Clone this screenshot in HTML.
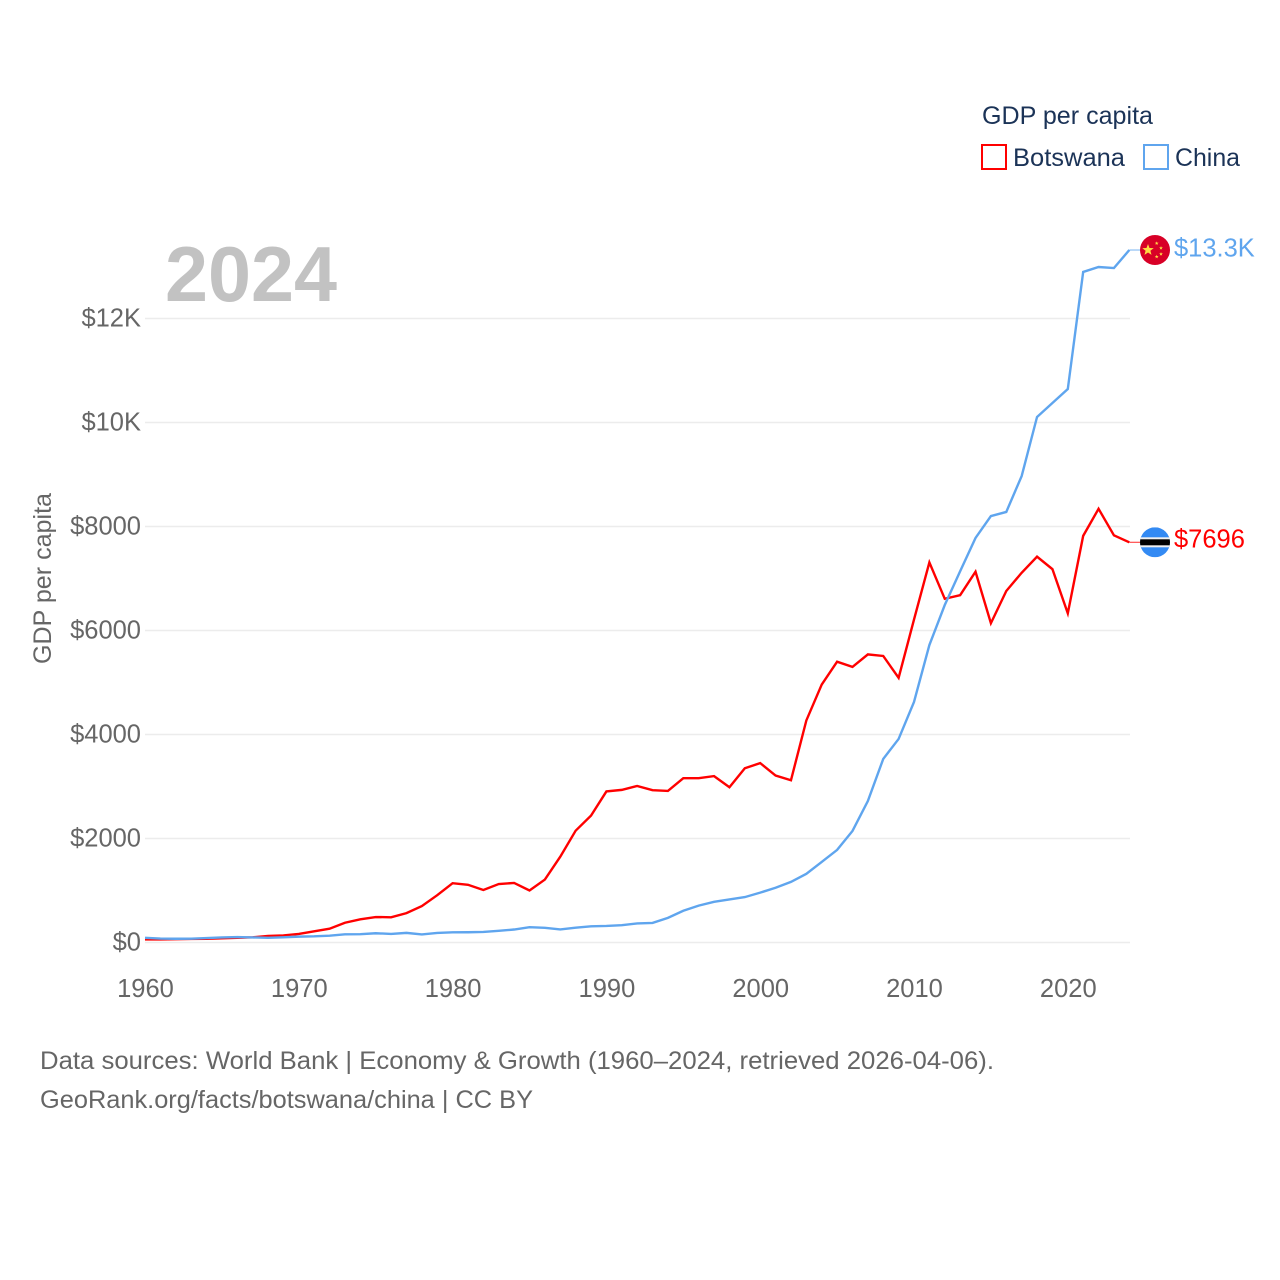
<!DOCTYPE html>
<html lang="en">
<head>
<meta charset="utf-8">
<title>GDP per capita: Botswana and China</title>
<style>
html,body{margin:0;padding:0;background:#fff;width:1280px;height:1280px;overflow:hidden}
svg{display:block}
text{font-family:"Liberation Sans",sans-serif}
</style>
</head>
<body>
<svg id="chart" width="1280" height="1280" viewBox="0 0 1280 1280" xmlns="http://www.w3.org/2000/svg">
  <defs>
    <clipPath id="flag-clip"><circle cx="0" cy="0" r="15"/></clipPath>
  </defs>
  <g id="grid"></g>
  <g id="y-ticks"></g>
  <g id="x-ticks"></g>
  <text transform="translate(51,578.5) rotate(-90)" text-anchor="middle" font-size="25" fill="#666" textLength="171" lengthAdjust="spacingAndGlyphs">GDP per capita</text>
  <text x="165" y="301" font-size="78" font-weight="700" fill="#c2c2c2" textLength="172" lengthAdjust="spacingAndGlyphs">2024</text>
  <g id="series"></g>
  <g id="end-labels"></g>

  <g>
    <text x="982" y="124" font-size="25" fill="#1b3357" textLength="171" lengthAdjust="spacingAndGlyphs">GDP per capita</text>
    <g>
      <rect x="982" y="145" width="24" height="24" fill="#fff" stroke="#ff0000" stroke-width="2"/>
      <text x="1013" y="166" font-size="25" fill="#1b3357" textLength="112" lengthAdjust="spacingAndGlyphs">Botswana</text>
    </g>
    <g>
      <rect x="1144" y="145" width="24" height="24" fill="#fff" stroke="#5fa5ee" stroke-width="2"/>
      <text x="1175" y="166" font-size="25" fill="#1b3357" textLength="65" lengthAdjust="spacingAndGlyphs">China</text>
    </g>
  </g>

  <g>
    <text x="40" y="1069" font-size="25" fill="#666" textLength="954" lengthAdjust="spacingAndGlyphs">Data sources: World Bank | Economy &amp; Growth (1960–2024, retrieved 2026-04-06).</text>
    <text x="40" y="1108" font-size="25" fill="#666" textLength="493" lengthAdjust="spacingAndGlyphs">GeoRank.org/facts/botswana/china | CC BY</text>
  </g>
</svg>
<script>
const startYear = 1960;
const xTickYears = [1960, 1970, 1980, 1990, 2000, 2010, 2020];
const yTickValues = [0, 2000, 4000, 6000, 8000, 10000, 12000];
const yTickLabels = ['$0', '$2000', '$4000', '$6000', '$8000', '$10K', '$12K'];
const botswanaValues = [
  60, 60, 65, 68, 72, 80, 90, 100, 125, 135,
  165, 215, 265, 380, 445, 490, 485, 565, 700, 910,
  1140, 1110, 1010, 1125, 1145, 1000, 1210, 1650, 2150, 2440,
  2905, 2935, 3010, 2930, 2915, 3160, 3160, 3200, 2985, 3350,
  3450, 3210, 3120, 4270, 4960, 5400, 5300, 5540, 5510, 5090,
  6210, 7310, 6610, 6680, 7130, 6140, 6760, 7110, 7420, 7180,
  6330, 7820, 8340, 7830, 7696
];
const chinaValues = [
  90, 76, 72, 73, 85, 98, 104, 97, 91, 100,
  113, 119, 132, 157, 160, 178, 165, 185, 156, 184,
  195, 197, 203, 225, 250, 294, 282, 252, 284, 311,
  318, 333, 366, 377, 473, 610, 709, 782, 829, 873,
  959, 1053, 1165, 1320, 1550, 1780, 2145, 2720, 3530, 3915,
  4625, 5720, 6490, 7140, 7780, 8200, 8280, 8970, 10106, 10375,
  10644, 12895, 12990, 12970, 13317
];
const botswanaEndLabel = '$7696';
const chinaEndLabel = '$13.3K';

const NS = 'http://www.w3.org/2000/svg';
const xScale = year => 145 + (year - 1960) * 15.38;
const yScale = value => 942.5 - value * 0.052;
function make(tag, attrs, parent) {
  const el = document.createElementNS(NS, tag);
  for (const k in attrs) el.setAttribute(k, attrs[k]);
  parent.appendChild(el);
  return el;
}

const gridGroup = document.getElementById('grid');
const yTickGroup = document.getElementById('y-ticks');
yTickValues.forEach((value, i) => {
  const line = make('line', {x1: 145, x2: 1130, y1: yScale(value), y2: yScale(value), stroke: '#ececec', 'stroke-width': 1.6}, gridGroup);
  
  
  const label = make('text', {x: 141, y: yScale(value) + 8, 'text-anchor': 'end', 'font-size': 25.5, fill: '#666'}, yTickGroup);
  
  
  label.textContent = yTickLabels[i];
});

const xTickGroup = document.getElementById('x-ticks');
xTickYears.forEach(year => {
  const label = make('text', {x: xScale(year) + 0.5, y: 997, 'text-anchor': 'middle', 'font-size': 25.5, fill: '#666'}, xTickGroup);
  
  
  label.textContent = year;
});

const seriesGroup = document.getElementById('series');
function drawSeries(values, color, name) {
  const points = values.map((value, i) => xScale(startYear + i).toFixed(2) + ',' + yScale(value).toFixed(2)).join(' ');
  const line = make('polyline', {points: points, fill: 'none', stroke: color, 'stroke-width': 2.4, 'stroke-linejoin': 'miter'}, seriesGroup);
  
  
}
drawSeries(botswanaValues, '#ff0000', 'line-botswana');
drawSeries(chinaValues, '#5fa5ee', 'line-china');

const endGroup = document.getElementById('end-labels');
function drawEnd(values, color, text, drawFlag, name, labelOffset) {
  const lastValue = values[values.length - 1];
  const y = yScale(lastValue);
  const lastX = xScale(startYear + values.length - 1);
  const connector = make('line', {x1: lastX, x2: 1141, y1: y, y2: y, stroke: color, 'stroke-width': 1.2, opacity: 0.7}, endGroup);
  
  
  const flag = make('g', {transform: 'translate(1155,' + y + ')', 'clip-path': 'url(#flag-clip)'}, endGroup);
  
  
  drawFlag(flag);
  const label = make('text', {x: 1174, y: y + labelOffset, 'font-size': 25.5, fill: color}, endGroup);
  
  
  label.textContent = text;
}
function star(cx, cy, r, parent) {
  const pts = [];
  for (let i = 0; i < 10; i++) {
    const a = -Math.PI / 2 + i * Math.PI / 5;
    const rad = i % 2 ? r * 0.42 : r;
    pts.push((cx + rad * Math.cos(a)).toFixed(2) + ',' + (cy + rad * Math.sin(a)).toFixed(2));
  }
  make('polygon', {points: pts.join(' '), fill: '#ffda44'}, parent);
}
drawEnd(botswanaValues, '#ff0000', botswanaEndLabel, g => {
  make('rect', {x: -15, y: -15, width: 30, height: 30, fill: '#338af3'}, g);
  make('rect', {x: -15, y: -5, width: 30, height: 10, fill: '#f0f0f0'}, g);
  make('rect', {x: -15, y: -3, width: 30, height: 6, fill: '#000'}, g);
}, 'botswana', 5);
drawEnd(chinaValues, '#5fa5ee', chinaEndLabel, g => {
  make('rect', {x: -15, y: -15, width: 30, height: 30, fill: '#d80027'}, g);
  star(-7, 0, 6, g);
  star(1.7, -6.7, 2, g);
  star(6, -2, 2, g);
  star(6, 4, 2, g);
  star(1.7, 6.7, 2, g);
}, 'china', 6.5);
</script>
</body>
</html>
